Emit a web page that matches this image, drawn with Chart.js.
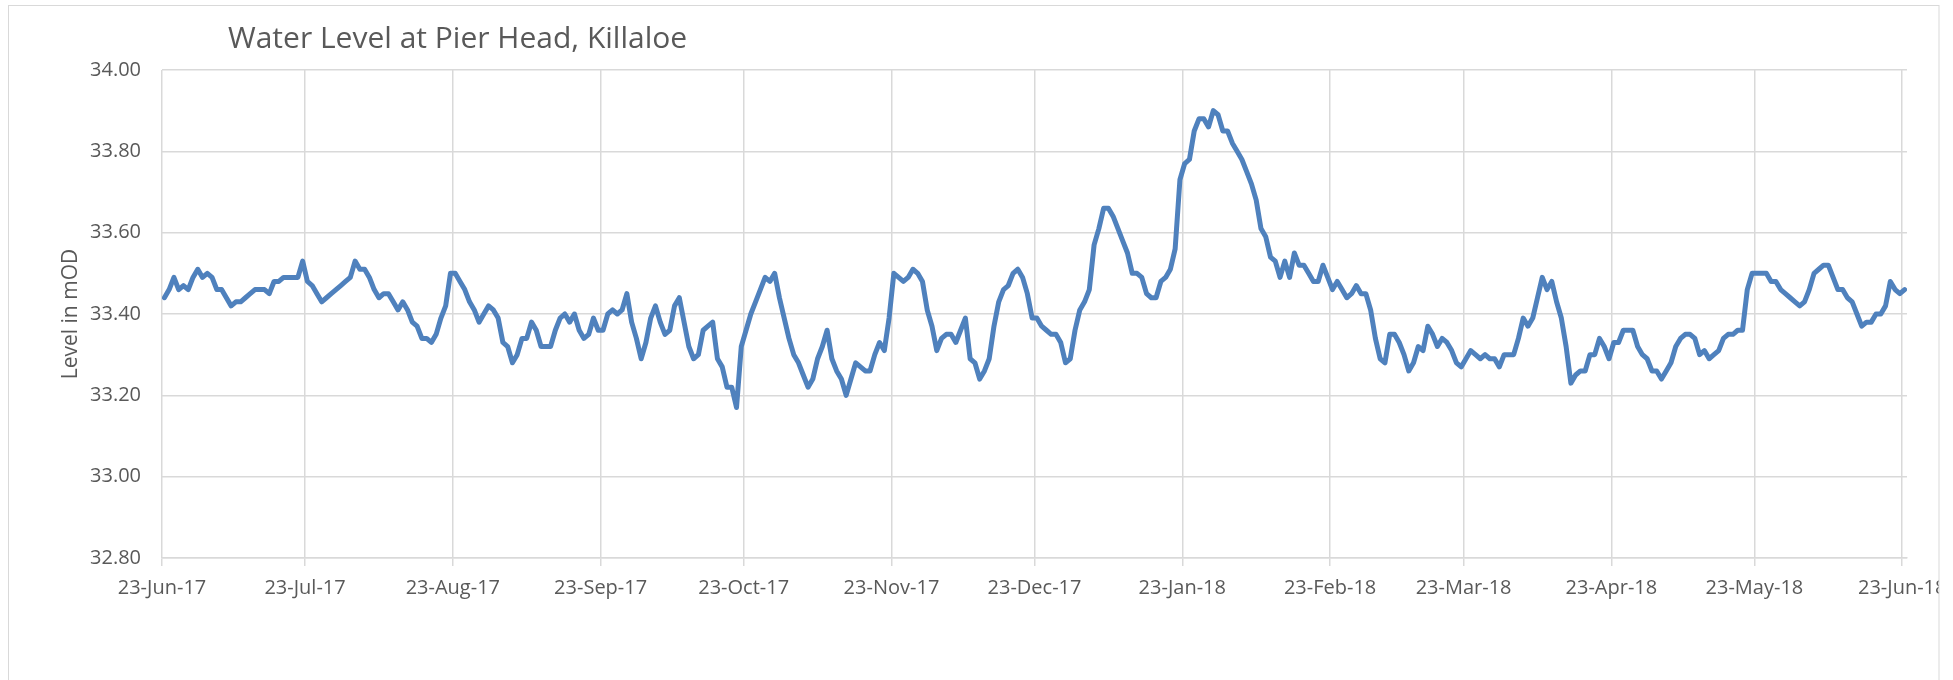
<!DOCTYPE html>
<html>
<head>
<meta charset="utf-8">
<title>Water Level at Pier Head, Killaloe</title>
<script src="https://cdn.jsdelivr.net/npm/chart.js@4.4.0/dist/chart.umd.min.js"></script>
<style>
  html, body { margin: 0; padding: 0; background: #ffffff; overflow: hidden; }
  canvas { display: block; }
</style>
</head>
<body>
<canvas id="levelChart" width="1953" height="680"></canvas>
<script>
// ---- Daily water level (mOD), one value per day starting 23-Jun-17 ----
const seriesStart = '2017-06-23';

const from23Jun17 = [33.44, 33.46, 33.49, 33.46, 33.47, 33.46, 33.49, 33.51, 33.49, 33.50,
                     33.49, 33.46, 33.46, 33.44, 33.42, 33.43, 33.43, 33.44, 33.45, 33.46,
                     33.46, 33.46, 33.45, 33.48, 33.48, 33.49, 33.49, 33.49, 33.49, 33.53];
const from23Jul17 = [33.48, 33.47, 33.45, 33.43, 33.44, 33.45, 33.46, 33.47, 33.48, 33.49,
                     33.53, 33.51, 33.51, 33.49, 33.46, 33.44, 33.45, 33.45, 33.43, 33.41,
                     33.43, 33.41, 33.38, 33.37, 33.34, 33.34, 33.33, 33.35, 33.39, 33.42,
                     33.50];
const from23Aug17 = [33.50, 33.48, 33.46, 33.43, 33.41, 33.38, 33.40, 33.42, 33.41, 33.39,
                     33.33, 33.32, 33.28, 33.30, 33.34, 33.34, 33.38, 33.36, 33.32, 33.32,
                     33.32, 33.36, 33.39, 33.40, 33.38, 33.40, 33.36, 33.34, 33.35, 33.39,
                     33.36];
const from23Sep17 = [33.36, 33.40, 33.41, 33.40, 33.41, 33.45, 33.38, 33.34, 33.29, 33.33,
                     33.39, 33.42, 33.38, 33.35, 33.36, 33.42, 33.44, 33.38, 33.32, 33.29,
                     33.30, 33.36, 33.37, 33.38, 33.29, 33.27, 33.22, 33.22, 33.17, 33.32];
const from23Oct17 = [33.36, 33.40, 33.43, 33.46, 33.49, 33.48, 33.50, 33.44, 33.39, 33.34,
                     33.30, 33.28, 33.25, 33.22, 33.24, 33.29, 33.32, 33.36, 33.29, 33.26,
                     33.24, 33.20, 33.24, 33.28, 33.27, 33.26, 33.26, 33.30, 33.33, 33.31,
                     33.39];
const from23Nov17 = [33.50, 33.49, 33.48, 33.49, 33.51, 33.50, 33.48, 33.41, 33.37, 33.31,
                     33.34, 33.35, 33.35, 33.33, 33.36, 33.39, 33.29, 33.28, 33.24, 33.26,
                     33.29, 33.37, 33.43, 33.46, 33.47, 33.50, 33.51, 33.49, 33.45, 33.39];
const from23Dec17 = [33.39, 33.37, 33.36, 33.35, 33.35, 33.33, 33.28, 33.29, 33.36, 33.41,
                     33.43, 33.46, 33.57, 33.61, 33.66, 33.66, 33.64, 33.61, 33.58, 33.55,
                     33.50, 33.50, 33.49, 33.45, 33.44, 33.44, 33.48, 33.49, 33.51, 33.56,
                     33.73];
const from23Jan18 = [33.77, 33.78, 33.85, 33.88, 33.88, 33.86, 33.90, 33.89, 33.85, 33.85,
                     33.82, 33.80, 33.78, 33.75, 33.72, 33.68, 33.61, 33.59, 33.54, 33.53,
                     33.49, 33.53, 33.49, 33.55, 33.52, 33.52, 33.50, 33.48, 33.48, 33.52,
                     33.49];
const from23Feb18 = [33.46, 33.48, 33.46, 33.44, 33.45, 33.47, 33.45, 33.45, 33.41, 33.34,
                     33.29, 33.28, 33.35, 33.35, 33.33, 33.30, 33.26, 33.28, 33.32, 33.31,
                     33.37, 33.35, 33.32, 33.34, 33.33, 33.31, 33.28, 33.27];
const from23Mar18 = [33.29, 33.31, 33.30, 33.29, 33.30, 33.29, 33.29, 33.27, 33.30, 33.30,
                     33.30, 33.34, 33.39, 33.37, 33.39, 33.44, 33.49, 33.46, 33.48, 33.43,
                     33.39, 33.32, 33.23, 33.25, 33.26, 33.26, 33.30, 33.30, 33.34, 33.32,
                     33.29];
const from23Apr18 = [33.33, 33.33, 33.36, 33.36, 33.36, 33.32, 33.30, 33.29, 33.26, 33.26,
                     33.24, 33.26, 33.28, 33.32, 33.34, 33.35, 33.35, 33.34, 33.30, 33.31,
                     33.29, 33.30, 33.31, 33.34, 33.35, 33.35, 33.36, 33.36, 33.46, 33.50];
const from23May18 = [33.50, 33.50, 33.50, 33.48, 33.48, 33.46, 33.45, 33.44, 33.43, 33.42,
                     33.43, 33.46, 33.50, 33.51, 33.52, 33.52, 33.49, 33.46, 33.46, 33.44,
                     33.43, 33.40, 33.37, 33.38, 33.38, 33.40, 33.40, 33.42, 33.48, 33.46,
                     33.45];
const on23Jun18 = [33.46];

// ---- Axis ticks ----
const tickDates = ['2017-06-23', '2017-07-23', '2017-08-23', '2017-09-23', '2017-10-23',
                   '2017-11-23', '2017-12-23', '2018-01-23', '2018-02-23', '2018-03-23',
                   '2018-04-23', '2018-05-23', '2018-06-23'];
const tickLabels = ['23-Jun-17', '23-Jul-17', '23-Aug-17', '23-Sep-17', '23-Oct-17',
                    '23-Nov-17', '23-Dec-17', '23-Jan-18', '23-Feb-18', '23-Mar-18',
                    '23-Apr-18', '23-May-18', '23-Jun-18'];
const yTickLabels = ['32.80', '33.00', '33.20', '33.40', '33.60', '33.80', '34.00'];

const chartTitle = 'Water Level at Pier Head, Killaloe';
const yAxisTitle = 'Level in mOD';

// ---- Derived structures ----
const DAY_MS = 86400000;
const dayOf = (iso) => Math.round((Date.parse(iso) - Date.parse(seriesStart)) / DAY_MS);

const levels = [].concat(from23Jun17, from23Jul17, from23Aug17, from23Sep17, from23Oct17,
                         from23Nov17, from23Dec17, from23Jan18, from23Feb18, from23Mar18,
                         from23Apr18, from23May18, on23Jun18);
// each day sits in the middle of its own one-day slot on the date axis
const points = levels.map((v, i) => ({ x: i + 0.5, y: v }));
const tickDays = tickDates.map(dayOf);
const yTickValues = yTickLabels.map(Number);

const TEXT = '#595959';
const GRID = '#d9d9d9';
const FONT = '"Open Sans", "Liberation Sans", sans-serif';
const FRAME_RIGHT = 1939;

const framePlugin = {
  id: 'frame',
  beforeDraw(chart) {
    const ctx = chart.ctx;
    ctx.save();
    ctx.fillStyle = '#ffffff';
    ctx.fillRect(0, 0, chart.width, chart.height);
    ctx.beginPath();
    ctx.rect(0, 0, FRAME_RIGHT, chart.height);
    ctx.clip();
  },
  afterDraw(chart) {
    const ctx = chart.ctx;
    ctx.restore();
    ctx.save();
    ctx.fillStyle = TEXT;
    ctx.font = '400 30px ' + FONT;
    ctx.textAlign = 'left';
    ctx.textBaseline = 'alphabetic';
    ctx.fillText(chartTitle, chart.chartArea.left + 66, 48);
    ctx.strokeStyle = GRID;
    ctx.lineWidth = 1;
    ctx.strokeRect(8.5, 5.5, FRAME_RIGHT - 8.5, chart.height + 20);
    ctx.restore();
  }
};

new Chart(document.getElementById('levelChart'), {
  type: 'line',
  data: {
    datasets: [{
      label: yAxisTitle,
      data: points,
      borderColor: '#4F81BD',
      backgroundColor: '#4F81BD',
      borderWidth: 5,
      pointRadius: 0,
      pointHoverRadius: 0,
      tension: 0,
      fill: false,
      borderJoinStyle: 'round',
      borderCapStyle: 'round'
    }]
  },
  options: {
    responsive: false,
    devicePixelRatio: 1,
    animation: false,
    events: [],
    layout: { padding: { left: 0, top: 70, right: 46, bottom: 62 } },
    plugins: {
      legend: { display: false },
      tooltip: { enabled: false },
      title: { display: false }
    },
    scales: {
      x: {
        type: 'linear',
        min: 0,
        max: levels.length,
        afterBuildTicks(scale) {
          scale.ticks = tickDays.map(v => ({ value: v }));
        },
        afterFit(scale) {
          scale.height = 60;
          scale.paddingLeft = 0;
          scale.paddingRight = 0;
        },
        ticks: {
          autoSkip: false,
          maxRotation: 0,
          minRotation: 0,
          padding: 10,
          color: TEXT,
          font: { family: FONT, size: 20 },
          callback: (value, index) => tickLabels[index]
        },
        grid: { color: GRID, lineWidth: 1.5, drawTicks: true, tickLength: 8 },
        border: { display: true, color: GRID, width: 1.5 }
      },
      y: {
        min: yTickValues[0],
        max: yTickValues[yTickValues.length - 1],
        afterBuildTicks(scale) {
          scale.ticks = yTickValues.map(v => ({ value: v }));
        },
        afterFit(scale) {
          scale.width = 162;
          scale.paddingTop = 0;
          scale.paddingBottom = 0;
        },
        ticks: {
          padding: 21,
          color: TEXT,
          font: { family: FONT, size: 20 },
          callback: (value, index) => yTickLabels[index]
        },
        grid: { color: GRID, lineWidth: 1.5, drawTicks: false },
        border: { display: false },
        title: {
          display: true,
          text: yAxisTitle,
          color: TEXT,
          font: { family: FONT, size: 21 },
          padding: { top: 58, bottom: 0 }
        }
      }
    }
  },
  plugins: [framePlugin]
});
</script>
</body>
</html>
